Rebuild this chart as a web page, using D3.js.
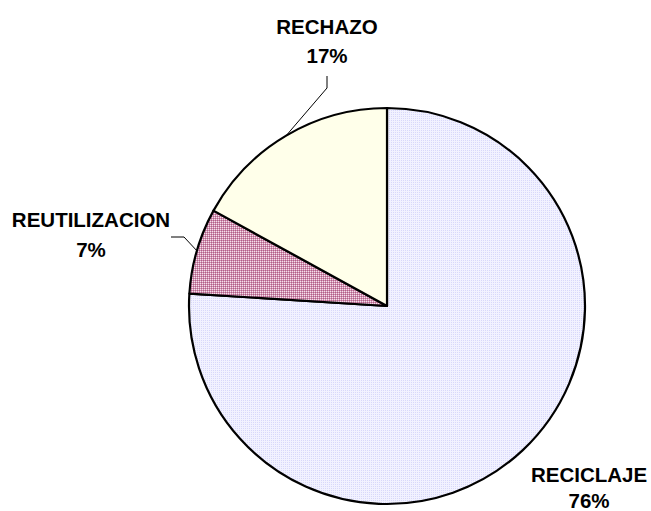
<!DOCTYPE html>
<html><head><meta charset="utf-8">
<script src="https://cdn.jsdelivr.net/npm/d3@7/dist/d3.min.js"></script>
<style>body{margin:0;background:#fff}svg{display:block}</style>
</head><body>
<script>
const categories = ["RECICLAJE", "REUTILIZACION", "RECHAZO"];
const values = [76, 7, 17];
const percentLabels = ["76%", "7%", "17%"];

const W = 651, H = 511, cx = 387, cy = 306, R = 198;
const svg = d3.select("body").append("svg").attr("width", W).attr("height", H);
const defs = svg.append("defs");

// patterns
const p1 = defs.append("pattern").attr("id","pReci").attr("width",2).attr("height",2).attr("patternUnits","userSpaceOnUse");
p1.append("rect").attr("width",2).attr("height",2).attr("fill","#f2f2ff");
p1.append("rect").attr("width",1).attr("height",1).attr("fill","#d8d8fa");
const p2 = defs.append("pattern").attr("id","pReut").attr("width",2).attr("height",2).attr("patternUnits","userSpaceOnUse");
p2.append("rect").attr("width",2).attr("height",2).attr("fill","#d090b0");
p2.append("rect").attr("x",1).attr("y",1).attr("width",1).attr("height",1).attr("fill","#f4e2ec");
p2.append("rect").attr("width",1).attr("height",1).attr("fill","#b06088");
const fills = ["url(#pReci)", "url(#pReut)", "#ffffea"];

const pie = d3.pie().sort(null).value(d => d)(values);
const arc = d3.arc().innerRadius(0).outerRadius(R);
const g = svg.append("g").attr("transform", `translate(${cx},${cy})`);
g.selectAll("path").data(pie).join("path")
  .attr("d", arc).attr("fill", (d,i) => fills[i])
  .attr("stroke", "#000").attr("stroke-width", 2.2).attr("stroke-linejoin","round");

const labelPos = [
  {x: 589, y1: 482, y2: 508, leader: null},
  {x: 91, y1: 227, y2: 257, leader: [[184,237],[171,237]]},
  {x: 327, y1: 34, y2: 63, leader: [[327,88],[327,76]]}
];
pie.forEach((d,i) => {
  const lp = labelPos[i];
  if (lp.leader) {
    const a = (d.startAngle + d.endAngle)/2;
    const px = cx + R*Math.sin(a), py = cy - R*Math.cos(a);
    const pts = [[px,py]].concat(lp.leader);
    svg.append("path").attr("d", d3.line()(pts)).attr("fill","none").attr("stroke","#000").attr("stroke-width",1);
  }
  const t = svg.append("g").attr("font-family","Liberation Sans, Arial, sans-serif").attr("font-weight","bold").attr("font-size",20.5).attr("text-anchor","middle").attr("fill","#000");
  t.append("text").attr("x",lp.x).attr("y",lp.y1).attr("textLength", null).text(categories[i]);
  t.append("text").attr("x",lp.x).attr("y",lp.y2).text(percentLabels[i]);
});
</script>
</body></html>
